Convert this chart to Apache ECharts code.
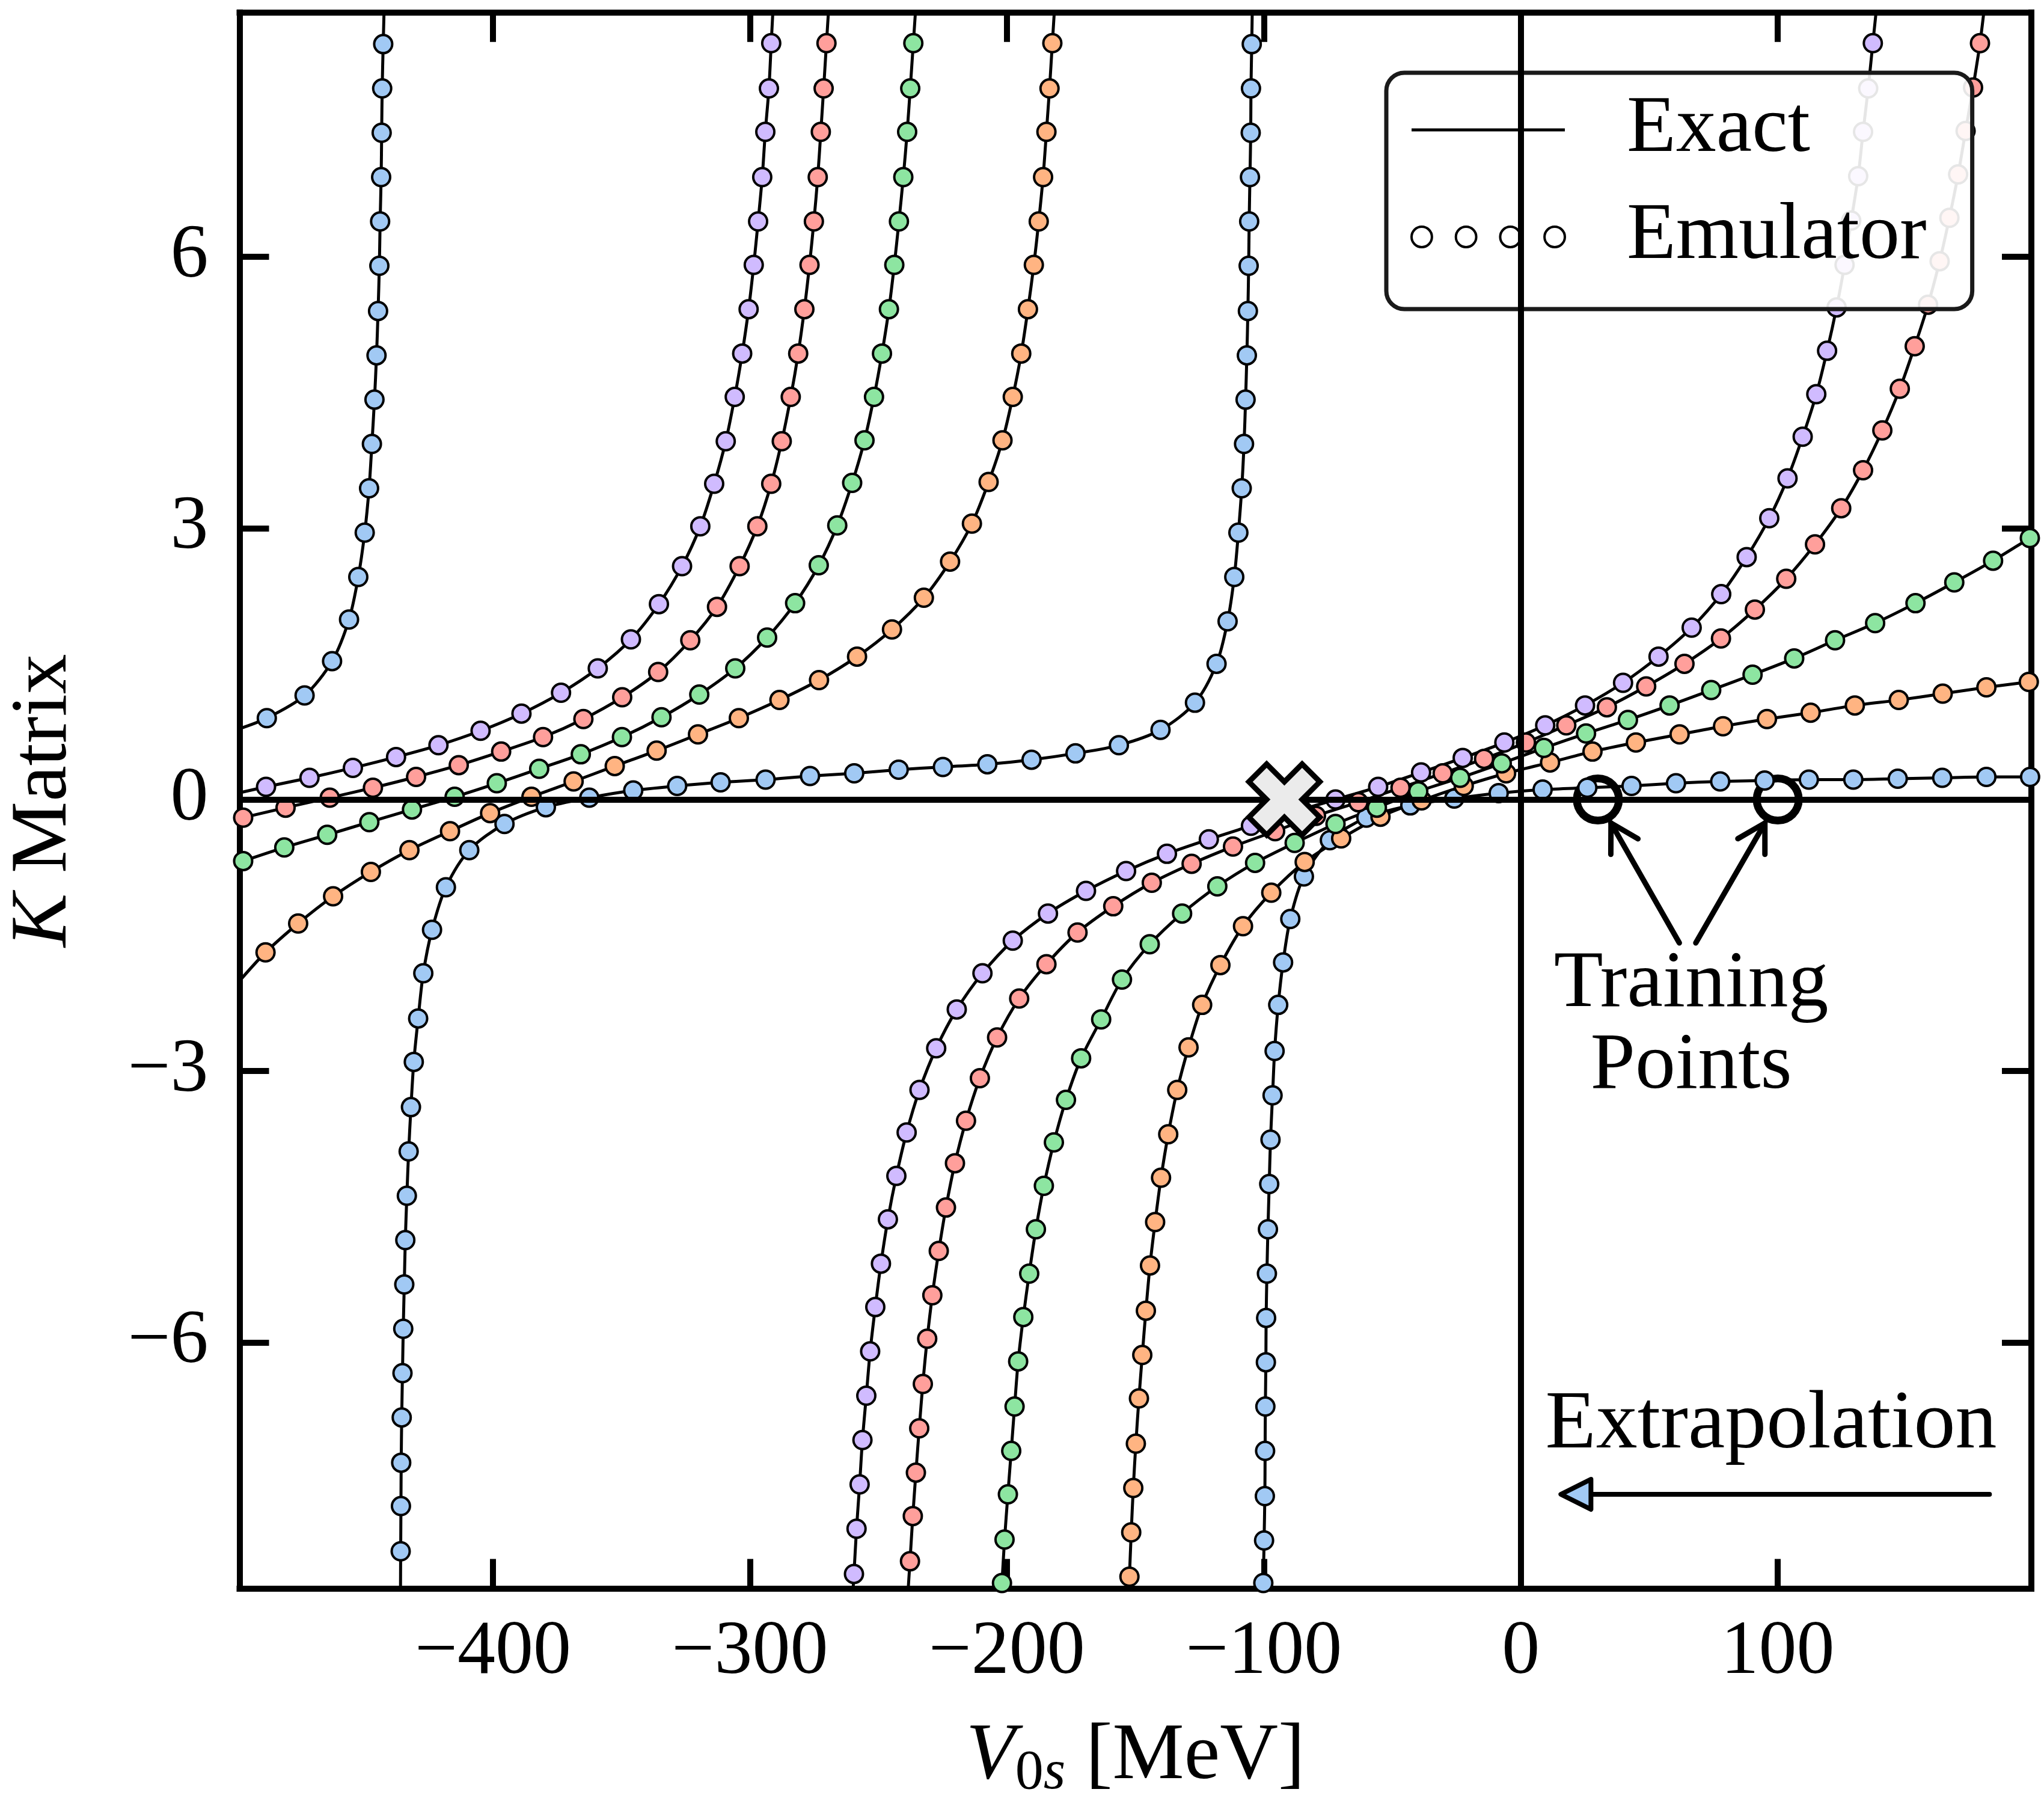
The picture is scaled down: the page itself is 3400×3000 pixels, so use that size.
<!DOCTYPE html>
<html>
<head>
<meta charset="utf-8">
<script src="https://cdn.jsdelivr.net/npm/echarts@6.0.0/dist/echarts.min.js"></script>
<style>
  html, body { margin: 0; padding: 0; background: #fff; }
  #chart { width: 3400px; height: 3000px; }
</style>
</head>
<body>
<div id="chart"></div>
<script>
// emulator points, one array per branch of each curve
var blueA = [[-488.0,0.90],[-473.3,1.15],[-462.6,1.53],[-456.0,1.99],[-452.4,2.46],[-449.9,2.95],[-448.2,3.44],[-447.1,3.93],[-446.1,4.42],[-445.3,4.91],[-444.7,5.40],[-444.2,5.90],[-443.9,6.39],[-443.5,6.88],[-443.3,7.37],[-443.1,7.86],[-442.7,8.35]];
var blueB = [[-435.9,-8.31],[-435.8,-7.81],[-435.7,-7.33],[-435.5,-6.83],[-435.2,-6.34],[-434.9,-5.85],[-434.5,-5.36],[-434.1,-4.87],[-433.5,-4.38],[-432.8,-3.89],[-431.9,-3.40],[-430.8,-2.90],[-429.1,-2.42],[-427.1,-1.92],[-423.7,-1.44],[-418.3,-0.97],[-409.2,-0.56],[-395.5,-0.27],[-379.4,-0.085],[-362.5,0.02],[-345.4,0.10],[-328.3,0.15],[-311.4,0.19],[-293.9,0.22],[-276.6,0.26],[-259.4,0.29],[-242.1,0.33],[-224.9,0.36],[-207.6,0.39],[-190.4,0.44],[-173.3,0.51],[-156.4,0.60],[-140.2,0.77],[-126.8,1.07],[-118.4,1.50],[-114.1,1.97],[-111.5,2.46],[-109.9,2.95],[-108.6,3.44],[-107.7,3.93],[-107.1,4.42],[-106.6,4.91],[-106.2,5.40],[-105.9,5.90],[-105.7,6.39],[-105.4,6.88],[-105.1,7.37],[-105.0,7.86],[-104.7,8.35]];
var blueC = [[-100.2,-8.66],[-99.9,-8.19],[-99.6,-7.70],[-99.5,-7.20],[-99.4,-6.71],[-99.2,-6.22],[-99.1,-5.73],[-98.8,-5.24],[-98.4,-4.75],[-97.9,-4.25],[-97.4,-3.76],[-96.6,-3.27],[-95.8,-2.78],[-94.4,-2.27],[-92.5,-1.80],[-89.7,-1.32],[-84.4,-0.85],[-74.3,-0.45],[-60.1,-0.20],[-43.0,-0.065],[-25.9,0.01],[-8.6,0.07],[8.5,0.11],[25.9,0.13],[43.1,0.15],[60.4,0.18],[77.6,0.20],[94.9,0.21],[112.1,0.22],[129.4,0.22],[146.7,0.23],[164.0,0.24],[181.2,0.25],[198.2,0.25]];
var orangeA = [[-488.5,-1.69],[-475.8,-1.37],[-462.2,-1.07],[-447.5,-0.80],[-432.5,-0.56],[-416.7,-0.35],[-401.1,-0.15],[-385.0,0.03],[-368.6,0.20],[-352.6,0.37],[-336.3,0.54],[-320.2,0.72],[-304.3,0.90],[-288.5,1.10],[-273.1,1.32],[-258.3,1.58],[-244.7,1.88],[-232.3,2.23],[-222.1,2.63],[-213.6,3.05],[-207.1,3.51],[-201.7,3.97],[-197.7,4.45],[-194.4,4.93],[-191.8,5.42],[-189.5,5.91],[-187.6,6.39],[-185.9,6.88],[-184.6,7.38],[-183.4,7.86],[-182.3,8.36]];
var orangeB = [[-152.3,-8.59],[-151.6,-8.10],[-150.8,-7.61],[-149.8,-7.12],[-148.6,-6.62],[-147.3,-6.14],[-145.9,-5.65],[-144.3,-5.15],[-142.3,-4.67],[-140.0,-4.18],[-137.2,-3.70],[-133.7,-3.21],[-129.3,-2.74],[-124.0,-2.27],[-116.9,-1.83],[-108.1,-1.40],[-97.1,-1.03],[-84.1,-0.69],[-69.9,-0.43],[-54.6,-0.19],[-38.6,-0.01],[-22.2,0.15],[-5.7,0.29],[11.4,0.41],[27.9,0.53],[44.8,0.63],[61.8,0.72],[78.7,0.81],[95.8,0.89],[112.8,0.96],[130.0,1.04],[147.1,1.10],[164.2,1.17],[181.2,1.24],[197.7,1.30]];
var greenA = [[-497.2,-0.68],[-481.2,-0.53],[-464.5,-0.39],[-448.1,-0.25],[-431.5,-0.11],[-414.9,0.03],[-398.5,0.18],[-382.0,0.34],[-365.8,0.50],[-349.8,0.69],[-334.4,0.91],[-319.7,1.16],[-305.7,1.45],[-293.3,1.79],[-282.4,2.17],[-273.2,2.59],[-266.0,3.03],[-260.2,3.50],[-255.4,3.97],[-251.7,4.45],[-248.6,4.93],[-245.9,5.42],[-243.8,5.91],[-242.0,6.39],[-240.3,6.88],[-238.8,7.38],[-237.6,7.86],[-236.4,8.36]];
var greenB = [[-201.9,-8.66],[-200.9,-8.18],[-199.6,-7.68],[-198.3,-7.20],[-197.0,-6.71],[-195.6,-6.21],[-193.6,-5.72],[-191.3,-5.24],[-188.7,-4.75],[-185.6,-4.27],[-181.7,-3.79],[-177.0,-3.32],[-171.1,-2.86],[-163.3,-2.43],[-155.2,-1.99],[-144.4,-1.60],[-131.8,-1.26],[-118.1,-0.96],[-103.4,-0.70],[-88.0,-0.48],[-72.1,-0.27],[-56.0,-0.09],[-39.9,0.09],[-23.6,0.24],[-7.4,0.40],[9.0,0.57],[25.4,0.73],[41.7,0.88],[57.9,1.04],[74.1,1.21],[90.2,1.38],[106.4,1.56],[122.3,1.76],[137.9,1.95],[153.6,2.17],[168.7,2.40],[183.8,2.64],[198.1,2.89]];
var redA = [[-497.2,-0.20],[-480.7,-0.09],[-463.5,0.02],[-446.7,0.13],[-429.9,0.25],[-413.3,0.38],[-396.8,0.53],[-380.5,0.69],[-364.8,0.89],[-349.7,1.13],[-335.7,1.41],[-323.2,1.76],[-312.8,2.13],[-304.0,2.58],[-297.1,3.02],[-291.7,3.49],[-287.6,3.96],[-284.1,4.45],[-281.2,4.93],[-278.8,5.42],[-276.8,5.91],[-275.1,6.39],[-273.6,6.88],[-272.4,7.38],[-271.3,7.86],[-270.2,8.36]];
var redB = [[-237.7,-8.42],[-236.6,-7.92],[-235.4,-7.44],[-234.1,-6.95],[-232.7,-6.46],[-231.0,-5.96],[-229.0,-5.48],[-226.5,-4.99],[-223.7,-4.51],[-220.2,-4.02],[-215.9,-3.55],[-210.5,-3.08],[-203.8,-2.63],[-195.2,-2.20],[-184.6,-1.82],[-172.5,-1.47],[-158.6,-1.18],[-143.6,-0.92],[-128.1,-0.71],[-112.0,-0.52],[-95.6,-0.35],[-79.7,-0.18],[-63.2,-0.03],[-46.8,0.13],[-30.4,0.29],[-14.3,0.45],[2.0,0.63],[17.7,0.82],[33.5,1.02],[48.8,1.25],[63.7,1.50],[77.9,1.78],[91.1,2.10],[103.3,2.44],[114.5,2.82],[124.7,3.22],[133.2,3.64],[140.7,4.08],[147.5,4.54],[153.3,5.01],[158.5,5.47],[163.0,5.95],[166.8,6.43],[170.2,6.91],[173.1,7.39],[176.0,7.87],[178.7,8.36]];
var purpleA = [[-488.3,0.14],[-471.4,0.24],[-454.5,0.35],[-437.7,0.47],[-421.2,0.60],[-404.8,0.76],[-388.9,0.95],[-373.5,1.18],[-359.2,1.45],[-346.3,1.77],[-335.4,2.16],[-326.4,2.58],[-319.3,3.02],[-313.9,3.49],[-309.4,3.96],[-305.9,4.45],[-303.0,4.93],[-300.5,5.42],[-298.5,5.91],[-296.8,6.39],[-295.2,6.88],[-294.0,7.38],[-292.6,7.86],[-291.7,8.36]];
var purpleB = [[-259.5,-8.56],[-258.5,-8.06],[-257.3,-7.57],[-256.2,-7.08],[-254.7,-6.59],[-253.2,-6.10],[-251.2,-5.61],[-249.0,-5.13],[-246.3,-4.64],[-243.0,-4.16],[-239.0,-3.68],[-234.0,-3.21],[-227.5,-2.75],[-219.5,-2.32],[-209.5,-1.92],[-197.7,-1.56],[-184.0,-1.26],[-169.2,-1.01],[-153.6,-0.79],[-137.7,-0.60],[-121.4,-0.44],[-105.0,-0.29],[-88.6,-0.14],[-72.1,0.00],[-55.5,0.14],[-38.8,0.30],[-22.6,0.46],[-6.4,0.63],[9.5,0.82],[25.0,1.04],[39.8,1.29],[53.6,1.58],[66.5,1.90],[78.0,2.27],[87.9,2.68],[96.7,3.11],[103.8,3.55],[109.7,4.01],[115.0,4.48],[119.2,4.96],[122.9,5.44],[126.0,5.91],[128.6,6.40],[131.3,6.89],[133.2,7.38],[135.2,7.86],[137.0,8.36]];

// where the exact curve leaves the frame (first / last point of each branch)
var blueAEnds = [[-500,0.77],[-442.2,8.9]];
var blueBEnds = [[-436.0,-8.9],[-104.4,8.9]];
var blueCEnds = [[-100.4,-8.9],[200,0.25]];
var orangeAEnds = [[-500,-2.05],[-181.1,8.9]];
var orangeBEnds = [[-152.7,-8.9],[200,1.31]];
var greenAEnds = [[-500,-0.71],[-235.1,8.9]];
var greenBEnds = [[-202.4,-8.9],[200,2.92]];
var redAEnds = [[-500,-0.22],[-269.0,8.9]];
var redBEnds = [[-238.8,-8.9],[181.0,8.9]];
var purpleAEnds = [[-500,0.066],[-290.7,8.9]];
var purpleBEnds = [[-260.2,-8.9],[139.0,8.9]];

// training points, reference marker, annotations
var trainX = [30, 100];
var trainY = [0, 0];
var refX = [-92];
var refY = [0];
var trainArrowFrom = [[61.7,-1.585],[68.1,-1.585]];
var trainArrowTo = [[35.1,-0.26],[95.0,-0.26]];
var extrapFrom = [182.4,-7.68];
var extrapTo = [15.6,-7.68];
var notes = ['Training\nPoints', 'Extrapolation'];
var notePos = [[66.3,-2.50],[97.4,-6.92]];

var FONT = '"Liberation Serif", "DejaVu Serif", serif';
var pastel = { blue: '#a1c9f4', orange: '#ffb482', green: '#8de5a1', red: '#ff9f9b', purple: '#d0bbff' };

var dom = document.getElementById('chart');
var myChart = echarts.init(dom);

var branches = [
    [blueA, blueAEnds, pastel.blue],
    [blueB, blueBEnds, pastel.blue],
    [blueC, blueCEnds, pastel.blue],
    [orangeA, orangeAEnds, pastel.orange],
    [orangeB, orangeBEnds, pastel.orange],
    [greenA, greenAEnds, pastel.green],
    [greenB, greenBEnds, pastel.green],
    [redA, redAEnds, pastel.red],
    [redB, redBEnds, pastel.red],
    [purpleA, purpleAEnds, pastel.purple],
    [purpleB, purpleBEnds, pastel.purple]
];

function fmt(step) {
    return function (v) {
        var r = v / step;
        if (Math.abs(r - Math.round(r)) > 1e-6) return '';
        return v < 0 ? '\u2212' + Math.abs(v) : String(v);
    };
}

function axisBase(extra) {
    var a = {
        type: 'value',
        axisLine: { show: true, onZero: false, lineStyle: { color: '#000', width: 10, cap: 'square' } },
        axisTick: { show: true, inside: true, length: 49, lineStyle: { color: '#000', width: 10 } },
        splitLine: { show: false },
        axisLabel: { show: false }
    };
    for (var k in extra) a[k] = extra[k];
    return a;
}

var labelStyle = { show: true, color: '#000', fontFamily: FONT, fontSize: 126, showMinLabel: false, showMaxLabel: false };

var series = [];
// zero lines (under everything)
series.push({
    type: 'line', data: [], silent: true, z: 1,
    markLine: {
        silent: true, symbol: ['none', 'none'], animation: false,
        label: { show: false },
        lineStyle: { color: '#000', width: 10, type: 'solid' },
        data: [{ yAxis: 0 }, { xAxis: 0 }]
    }
});
series.push({
    type: 'scatter', name: 'Training', silent: true, z: 1,
    data: trainX.map(function (x, i) { return [x, trainY[i]]; }),
    symbol: 'circle', symbolSize: 70,
    itemStyle: { color: '#fff', borderColor: '#000', borderWidth: 13, opacity: 1 }
});
branches.forEach(function (b) {
    series.push({
        type: 'line', name: 'Exact', silent: true, z: 2,
        data: [b[1][0]].concat(b[0], [b[1][1]]),
        symbol: 'none', smooth: 0.3,
        lineStyle: { color: '#000', width: 5 },
        itemStyle: { color: '#000' }
    });
    series.push({
        type: 'scatter', name: 'Emulator', silent: true, z: 2,
        data: b[0], symbol: 'circle', symbolSize: 30,
        itemStyle: { color: b[2], borderColor: '#000', borderWidth: 4, opacity: 1 }
    });
});
series.push({
    type: 'scatter', name: 'Reference', silent: true, z: 5,
    data: refX.map(function (x, i) { return [x, refY[i]]; }),
    symbol: 'path://M25,0 L50,25 L75,0 L100,25 L75,50 L100,75 L75,100 L50,75 L25,100 L0,75 L25,50 L0,25 Z',
    symbolSize: 118,
    itemStyle: { color: '#ebebeb', borderColor: '#000', borderWidth: 9, opacity: 1 }
});

var dots4 = 'path://M0,17a17,17 0 1,0 34,0a17,17 0 1,0 -34,0' +
    'M74,17a17,17 0 1,0 34,0a17,17 0 1,0 -34,0' +
    'M148,17a17,17 0 1,0 34,0a17,17 0 1,0 -34,0' +
    'M222,17a17,17 0 1,0 34,0a17,17 0 1,0 -34,0';
var bar = 'path://M0,0 L255,0 L255,5 L0,5 Z';

option = {
    animation: false,
    backgroundColor: '#fff',
    grid: { left: 398.5, right: 21, top: 20.7, bottom: 358.5, containLabel: false, outerBoundsMode: 'none' },
    legend: {
        show: true, selectedMode: false, orient: 'vertical',
        left: 2306, top: 121,
        padding: [28, 76, 53, 40],
        itemWidth: 255, itemHeight: 40, itemGap: 44,
        backgroundColor: 'rgba(255,255,255,0.9)',
        borderColor: '#1a1a1a', borderWidth: 7, borderRadius: 30,
        formatter: '{t|{name}}',
        textStyle: {
            color: '#000', fontFamily: FONT, fontSize: 134,
            rich: { t: { color: '#000', fontFamily: FONT, fontSize: 134, lineHeight: 130, padding: [0, 0, 0, 98] } }
        },
        data: [
            { name: 'Exact', icon: bar, itemStyle: { color: '#000', borderWidth: 0 } },
            { name: 'Emulator', icon: dots4, itemStyle: { color: '#fff', borderColor: '#000', borderWidth: 4 } }
        ]
    },
    xAxis: [
        axisBase({
            position: 'bottom', min: -498.6, max: 198.7, splitNumber: 7,
            axisLabel: Object.assign({ margin: 44, formatter: fmt(100) }, labelStyle),
            name: '{i|V}{s|0}{si|s}{n| [MeV]}',
            nameLocation: 'middle', nameGap: 205,
            nameTextStyle: {
                color: '#000', fontFamily: FONT, fontSize: 134,
                rich: {
                    i: { fontFamily: FONT, fontSize: 134, fontStyle: 'italic', lineHeight: 150, color: '#000' },
                    n: { fontFamily: FONT, fontSize: 134, lineHeight: 150, color: '#000' },
                    s: { fontFamily: FONT, fontSize: 94, lineHeight: 66, verticalAlign: 'bottom', color: '#000' },
                    si: { fontFamily: FONT, fontSize: 94, fontStyle: 'italic', lineHeight: 66, verticalAlign: 'bottom', color: '#000' }
                }
            }
        }),
        axisBase({ position: 'top', min: -498.6, max: 198.7, splitNumber: 7 })
    ],
    yAxis: [
        axisBase({
            position: 'left', min: -8.72, max: 8.70, splitNumber: 6,
            axisLabel: Object.assign({ margin: 52, formatter: fmt(3) }, labelStyle),
            name: '{i|K}{n| Matrix}',
            nameLocation: 'middle', nameGap: 250,
            nameTextStyle: {
                color: '#000', fontFamily: FONT, fontSize: 134,
                rich: {
                    i: { fontFamily: FONT, fontSize: 134, fontStyle: 'italic', lineHeight: 150, color: '#000' },
                    n: { fontFamily: FONT, fontSize: 134, lineHeight: 150, color: '#000' }
                }
            }
        }),
        axisBase({ position: 'right', min: -8.72, max: 8.70, splitNumber: 6 })
    ],
    series: series
};

if (option && typeof option === 'object') {
    myChart.setOption(option, true);
}

// arrows and notes, placed in data coordinates through the grid
function px(p) { return myChart.convertToPixel({ xAxisIndex: 0, yAxisIndex: 0 }, p); }
var g = [];
trainArrowFrom.forEach(function (from, i) {
    var s = px(from), t = px(trainArrowTo[i]);
    var dx = s[0] - t[0], dy = s[1] - t[1];
    var len = Math.sqrt(dx * dx + dy * dy), ux = dx / len, uy = dy / len;
    var L = 52, a = Math.PI / 6;
    function barb(ang) {
        return [t[0] + L * (ux * Math.cos(ang) - uy * Math.sin(ang)),
                t[1] + L * (ux * Math.sin(ang) + uy * Math.cos(ang))];
    }
    g.push({ type: 'polyline', z: 10, shape: { points: [s, t] }, style: { stroke: '#000', lineWidth: 9, lineCap: 'round', fill: null } });
    g.push({ type: 'polyline', z: 10, shape: { points: [barb(a), t, barb(-a)] }, style: { stroke: '#000', lineWidth: 9, lineCap: 'round', lineJoin: 'miter', fill: null } });
});
(function () {
    var tail = px(extrapFrom), tip = px(extrapTo);
    var dx = tail[0] - tip[0], dy = tail[1] - tip[1];
    var len = Math.sqrt(dx * dx + dy * dy), ux = dx / len, uy = dy / len;
    var HL = 50, HW = 25;
    var base = [tip[0] + HL * ux, tip[1] + HL * uy];
    g.push({ type: 'polyline', z: 10, shape: { points: [tail, base] }, style: { stroke: '#000', lineWidth: 8, lineCap: 'round', fill: null } });
    g.push({ type: 'polygon', z: 11, shape: { points: [tip, [base[0] - HW * uy, base[1] + HW * ux], [base[0] + HW * uy, base[1] - HW * ux]] },
             style: { fill: pastel.blue, stroke: '#000', lineWidth: 8, lineJoin: 'round' } });
})();
notes.forEach(function (txt, i) {
    var p = px(notePos[i]);
    g.push({ type: 'text', z: 10, x: p[0], y: p[1],
             style: { text: txt, fill: '#000', fontFamily: FONT, fontSize: i === 1 ? 138 : 134, align: 'center', verticalAlign: 'middle', lineHeight: 136 } });
});
myChart.setOption({ graphic: g });
</script>
</body>
</html>
